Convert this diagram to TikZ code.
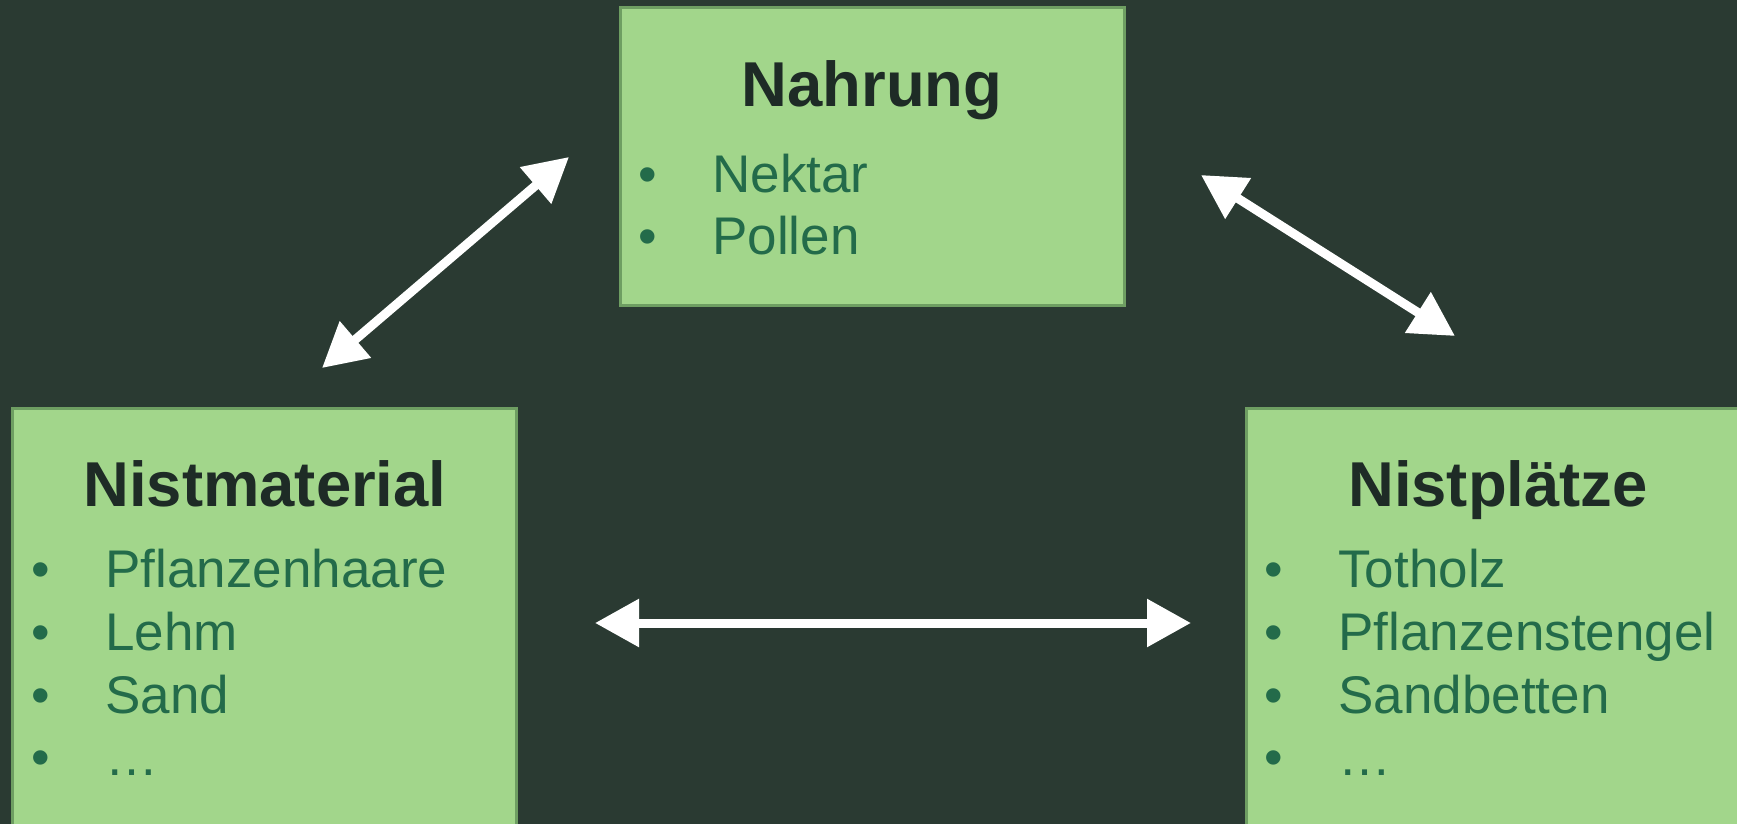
\documentclass[tikz,border=0pt]{standalone}
\usepackage{fontspec}
\setmainfont{Liberation Sans}
\usetikzlibrary{arrows.meta}
\definecolor{bg}{HTML}{2A3A32}
\definecolor{boxfill}{HTML}{A2D68B}
\definecolor{boxline}{HTML}{6E9E62}
\definecolor{titlecol}{HTML}{1E2B26}
\definecolor{itemcol}{HTML}{236B4A}
\begin{document}
\begin{tikzpicture}[x=0.5pt,y=-0.5pt,
 box/.style={draw=boxline, line width=1.5pt, fill=boxfill, rectangle, inner sep=0pt, outer sep=0pt, anchor=north west, minimum width=252pt, minimum height=#1},
 ttl/.style={anchor=base, inner sep=0pt, text=titlecol, font=\fontsize{31.7}{36}\selectfont\bfseries},
 itm/.style={anchor=base west, inner sep=0pt, text=itemcol, font=\fontsize{26.5}{30}\selectfont},
 bul/.style={anchor=base, inner sep=0pt, text=itemcol, font=\fontsize{26.5}{30}\selectfont},
 link/.style={white, line width=4.5pt, {Triangle[length=22pt,width=23pt]}-{Triangle[length=22pt,width=23pt]}}]
\useasboundingbox (0,0) rectangle (1737,824);
\clip (0,0) rectangle (1737,824);
\fill[bg] (0,0) rectangle (1737,824);
% boxes
\node[box=148.5pt] (nahrung) at (620,8) {};
\node[box=250pt] (material) at (12,408) {};
\node[box=250pt] (plaetze) at (1246,408) {};
% Nahrung
\node[ttl] (t1) at (872,107) {Nahrung};
\node[bul] (b11) at (648,192) {•};
\node[itm] (i11) at (712,192) {Nektar};
\node[bul] (b12) at (648,255) {•};
\node[itm] (i12) at (712,255) {Pollen};
% Nistmaterial
\node[ttl] (t2) at (265,506) {Nistmaterial};
\node[bul] (b21) at (41,587) {•};
\node[itm] (i21) at (105,587) {Pflanzenhaare};
\node[bul] (b22) at (41,650) {•};
\node[itm] (i22) at (105,650) {Lehm};
\node[bul] (b23) at (41,713) {•};
\node[itm] (i23) at (105,713) {Sand};
\node[bul] (b24) at (41,775) {•};
\node[itm] (i24) at (105,775) {…};
% Nistplaetze
\node[ttl] (t3) at (1498,506) {Nistplätze};
\node[bul] (b31) at (1274,587) {•};
\node[itm] (i31) at (1338,587) {Totholz};
\node[bul] (b32) at (1274,650) {•};
\node[itm] (i32) at (1338,650) {Pflanzenstengel};
\node[bul] (b33) at (1274,713) {•};
\node[itm] (i33) at (1338,713) {Sandbetten};
\node[bul] (b34) at (1274,775) {•};
\node[itm] (i34) at (1338,775) {…};
% arrows
\coordinate (a1s) at (322,368);
\coordinate (a1e) at (569,157);
\coordinate (a2s) at (1201,175);
\coordinate (a2e) at (1455,336);
\coordinate (a3s) at (595,623);
\coordinate (a3e) at (1191,623);
\draw[link] (a1s) -- (a1e);
\draw[link] (a2s) -- (a2e);
\draw[link] (a3s) -- (a3e);
\end{tikzpicture}
\end{document}
